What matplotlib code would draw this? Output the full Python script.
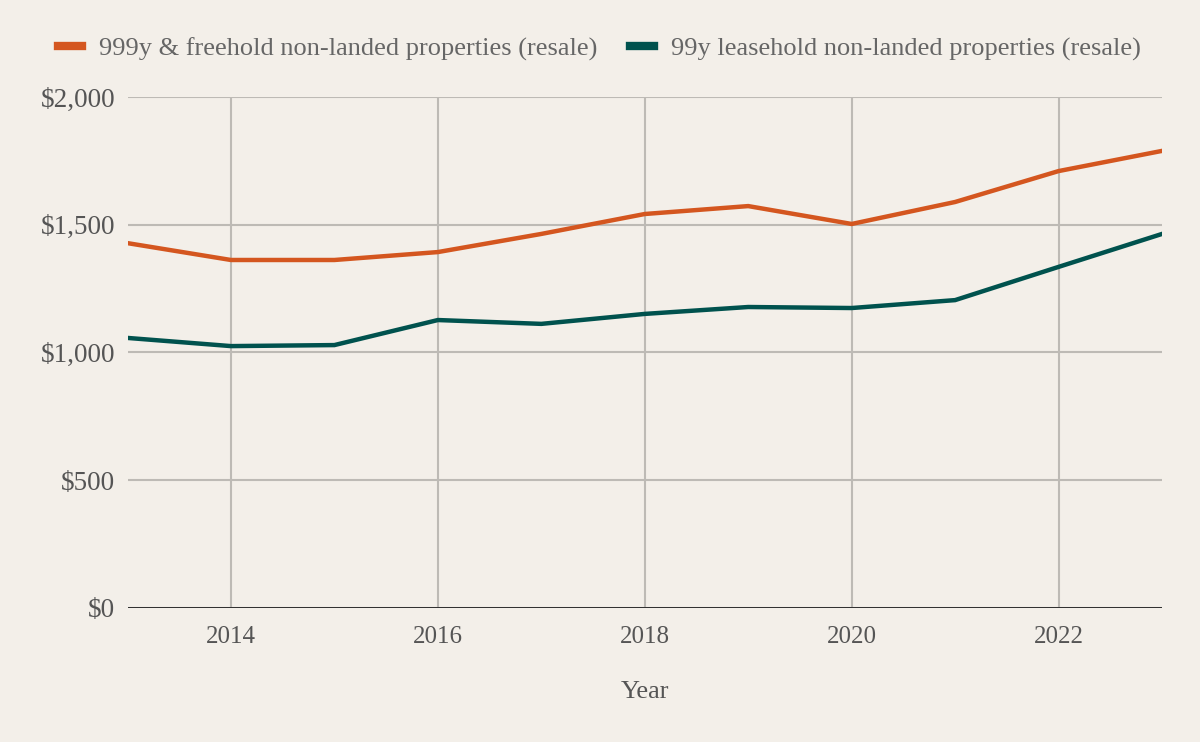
import matplotlib.pyplot as plt
from matplotlib.ticker import FuncFormatter

years = [2013, 2014, 2015, 2016, 2017, 2018, 2019, 2020, 2021, 2022, 2023]
freehold = [1428, 1362, 1362, 1393, 1464, 1542, 1573, 1503, 1589, 1710, 1789]
leasehold = [1057, 1025, 1029, 1127, 1112, 1151, 1178, 1174, 1205, 1335, 1464]
labels = ["999y & freehold non-landed properties (resale)",
          "99y leasehold non-landed properties (resale)"]
colors = ["#d4561f", "#00524e"]

bg = "#f3efe9"
plt.rcParams['font.family'] = ['Liberation Serif', 'DejaVu Serif']

fig = plt.figure(figsize=(12, 7.42), dpi=100, facecolor=bg)
ax = fig.add_axes([0.10625, 0.1806, 0.8621, 0.6887])
ax.set_facecolor(bg)

ax.plot(years, freehold, color=colors[0], lw=3.2, label=labels[0], solid_joinstyle='miter')
ax.plot(years, leasehold, color=colors[1], lw=3.2, label=labels[1], solid_joinstyle='miter')

ax.set_xlim(2013, 2023)
ax.set_ylim(0, 2000)
ax.set_xticks([2014, 2016, 2018, 2020, 2022])
ax.set_yticks([0, 500, 1000, 1500, 2000])
ax.yaxis.set_major_formatter(FuncFormatter(lambda v, p: "${:,.0f}".format(v)))
ax.grid(True, color="#bdbab5", lw=1.5)
ax.set_axisbelow(True)
ax.axhline(0, color="#222222", lw=2.0, zorder=3)
for s in ax.spines.values():
    s.set_visible(False)
ax.tick_params(length=0, colors="#555555")
ax.tick_params(axis='y', pad=9, labelsize=19.5)
ax.tick_params(axis='x', pad=13, labelsize=18)
ax.set_xlabel("Year", fontsize=19, color="#555555", labelpad=24)

fig.legend(loc='upper center', bbox_to_anchor=(0.4995, 0.982), ncol=2, frameon=False,
           fontsize=19, labelcolor="#666666", handlelength=0.9, handletextpad=0.65,
           columnspacing=1.25)
leg = fig.legends[0]
for h in leg.legend_handles:
    h.set_linewidth(6)

fig.savefig("out.png", dpi=100, facecolor=bg)
